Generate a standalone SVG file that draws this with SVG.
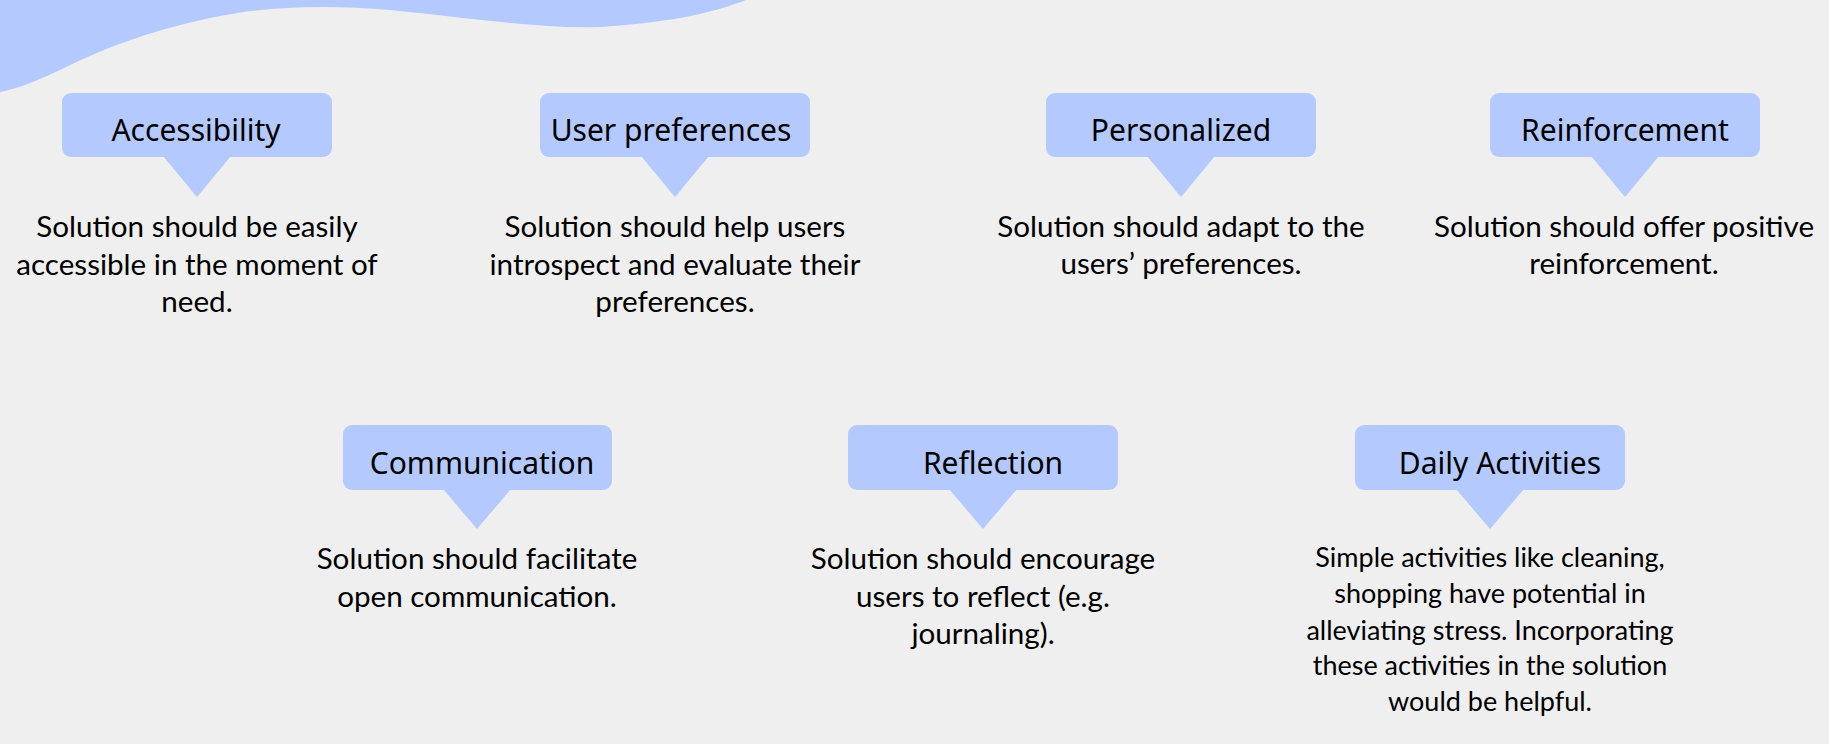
<svg xmlns="http://www.w3.org/2000/svg" width="1829" height="744" viewBox="0 0 1829 744">
<style>
.bg{fill:#efefef}
.blue{fill:#b4cafe}
.t{font-family:"Noto Sans","DejaVu Sans",sans-serif;font-size:30px;fill:#000;text-anchor:middle}
.b{font-family:Lato,"Liberation Sans",sans-serif;font-size:29.6px;fill:#000;text-anchor:middle}
.s{font-family:Lato,"Liberation Sans",sans-serif;font-size:27px;fill:#000;text-anchor:middle}
</style>
<rect class="bg" x="0" y="0" width="1829" height="744"/>
<path id="wave" class="blue" d="M0,0 H746 C720,10 680,22 600,27 C540,29 470,18 390,10 C330,5 270,6 220,16 C160,28 110,45 60,70 C35,82 15,89 0,92 Z"/>
<g id="connectors"></g>
<g id="n1">
<rect class="blue" x="62" y="93" width="270" height="64" rx="9"/>
<polygon class="blue" points="163,156 231,156 197,197"/>
<text class="t" x="196" y="141">Accessibility</text>
<text class="b" x="197" y="237">Solution should be easily</text>
<text class="b" x="197" y="275">accessible in the moment of</text>
<text class="b" x="197" y="312">need.</text>
</g>
<g id="n2">
<rect class="blue" x="540" y="93" width="270" height="64" rx="9"/>
<polygon class="blue" points="641,156 709,156 675,197"/>
<text class="t" x="671" y="141">User preferences</text>
<text class="b" x="675" y="237">Solution should help users</text>
<text class="b" x="675" y="275">introspect and evaluate their</text>
<text class="b" x="675" y="312">preferences.</text>
</g>
<g id="n3">
<rect class="blue" x="1046" y="93" width="270" height="64" rx="9"/>
<polygon class="blue" points="1147,156 1215,156 1181,197"/>
<text class="t" x="1181" y="141">Personalized</text>
<text class="b" x="1181" y="237">Solution should adapt to the</text>
<text class="b" x="1181" y="274">users’ preferences.</text>
</g>
<g id="n4">
<rect class="blue" x="1490" y="93" width="270" height="64" rx="9"/>
<polygon class="blue" points="1591,156 1659,156 1625,197"/>
<text class="t" x="1625" y="141">Reinforcement</text>
<text class="b" x="1624" y="237">Solution should offer positive</text>
<text class="b" x="1624" y="274">reinforcement.</text>
</g>
<g id="n5">
<rect class="blue" x="343" y="425" width="269" height="65" rx="9"/>
<polygon class="blue" points="443,489 511,489 477,529"/>
<text class="t" x="482" y="474">Communication</text>
<text class="b" x="477" y="569">Solution should facilitate</text>
<text class="b" x="477" y="607">open communication.</text>
</g>
<g id="n6">
<rect class="blue" x="848" y="425" width="270" height="65" rx="9"/>
<polygon class="blue" points="949,489 1017,489 983,529"/>
<text class="t" x="993" y="474">Reflection</text>
<text class="b" x="983" y="569">Solution should encourage</text>
<text class="b" x="983" y="607">users to reflect (e.g.</text>
<text class="b" x="983" y="644">journaling).</text>
</g>
<g id="n7">
<rect class="blue" x="1355" y="425" width="270" height="65" rx="9"/>
<polygon class="blue" points="1456,489 1524,489 1490,529"/>
<text class="t" x="1500" y="474">Daily Activities</text>
<text class="s" x="1490" y="567">Simple activities like cleaning,</text>
<text class="s" x="1490" y="603">shopping have potential in</text>
<text class="s" x="1490" y="640">alleviating stress. Incorporating</text>
<text class="s" x="1490" y="675">these activities in the solution</text>
<text class="s" x="1490" y="711">would be helpful.</text>
</g>
</svg>
